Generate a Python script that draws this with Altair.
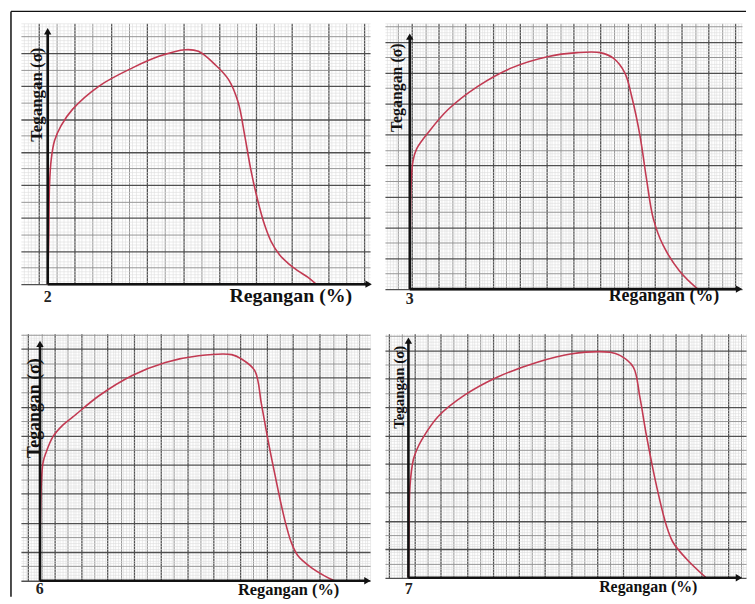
import altair as alt
import numpy as np
import pandas as pd

# ---- curve data (grid units: major graph-paper square = 1) ----
p1_x = [0.26, 0.29, 0.31, 0.36, 0.45, 0.63, 0.95, 1.68, 2.60, 3.33, 4.06, 4.42, 4.88, 5.25, 5.52, 5.70, 5.88, 6.07, 6.25, 6.43, 6.66, 6.89, 7.16, 7.44, 7.67]
p1_y = [0.0, 1.5, 3.0, 3.8, 4.35, 4.8, 5.3, 6.0, 6.55, 6.9, 7.1, 7.05, 6.65, 6.2, 5.5, 4.5, 3.4, 2.49, 1.79, 1.29, 0.89, 0.64, 0.41, 0.21, 0.0]

p2_x = [-0.07, -0.05, -0.02, 0.05, 0.18, 0.61, 1.35, 2.45, 3.68, 5.03, 6.13, 6.99, 7.47, 7.9, 8.15, 8.46, 8.7, 8.95, 9.31, 9.93, 10.6]
p2_y = [0.0, 2.0, 3.4, 4.15, 4.53, 5.06, 5.81, 6.56, 7.15, 7.52, 7.65, 7.65, 7.47, 6.99, 6.24, 4.96, 3.57, 2.29, 1.43, 0.58, 0.0]

p3_x = [0.45, 0.46, 0.56, 0.69, 0.94, 1.31, 1.69, 2.69, 3.93, 5.18, 6.43, 7.68, 8.05, 8.55, 8.8, 9.05, 9.3, 9.68, 9.93, 10.18, 10.67, 11.18, 11.55]
p3_y = [0.0, 1.88, 4.05, 4.45, 4.97, 5.37, 5.65, 6.39, 7.08, 7.53, 7.76, 7.80, 7.65, 7.25, 6.11, 4.85, 3.71, 2.11, 1.32, 0.86, 0.46, 0.17, 0.0]

p4_x = [0.76, 0.78, 0.82, 0.95, 1.08, 1.27, 1.9, 2.91, 4.18, 5.7, 6.97, 8.49, 8.87, 9.38, 9.63, 9.89, 10.27, 10.65, 10.9, 11.41, 12.17]
p4_y = [0.0, 1.6, 3.23, 4.16, 4.5, 4.85, 5.67, 6.42, 7.06, 7.58, 7.87, 7.93, 7.82, 7.41, 6.36, 4.97, 3.23, 1.83, 1.25, 0.67, 0.0]

panel_labels = ["2", "3", "6", "7"]
y_title = "Tegangan (σ)"
x_title = "Regangan (%)"

# panel geometry: x domain, y domain, axis origin x, arrow top y, arrow tip x
x_domains = [[-0.48, 9.16], [-0.99, 12.24], [-0.27, 12.9], [-0.14, 13.7]]
y_domains = [[0, 7.9], [0, 8.6], [0, 8.52], [0, 8.58]]
axis_x = [0.26, -0.07, 0.45, 0.76]
arrow_top = [7.66, 8.17, 8.17, 8.34]
arrow_tip = [9.12, 12.13, 12.8, 13.43]

sizes = [(352, 263), (360, 268), (352, 249), (364, 246)]
ytitle_pos = [(16, 72, 17), (12, 65, 16), (14, 75, 18), (14, 54, 15)]
xtitle_pos = [(334, 275, 20), (337, 275, 18), (321, 258, 16.5), (315, 255, 16)]
num_pos = [(27, 276), (25, 278), (19, 257), (24, 257)]

curves = [(p1_x, p1_y), (p2_x, p2_y), (p3_x, p3_y), (p4_x, p4_y)]

MAJOR = "abs(datum.value - round(datum.value)) < 0.01"
MEDIUM = "abs(datum.value * 2 - round(datum.value * 2)) < 0.02"


def grid_vals(lo, hi):
    return [float(v) for v in np.round(np.arange(np.ceil(lo * 10), np.floor(hi * 10) + 1) / 10.0, 2)]


def grid_axis(vals):
    return alt.Axis(
        values=vals, grid=True, labels=False, ticks=False, domain=False, title=None,
        gridColor={"condition": [{"test": MAJOR, "value": "#505050"},
                                 {"test": MEDIUM, "value": "#959595"}],
                   "value": "#dedede"},
        gridWidth={"condition": [{"test": MAJOR, "value": 1.3},
                                 {"test": MEDIUM, "value": 1.0}],
                   "value": 0.6},
    )


def make_panel(i):
    cx, cy = curves[i]
    xd, yd = x_domains[i], y_domains[i]
    xa = grid_axis(grid_vals(*xd))
    ya = grid_axis(grid_vals(*yd))
    xs = alt.Scale(domain=xd, nice=False, zero=False)
    ys = alt.Scale(domain=yd, nice=False, zero=False)
    w, h = sizes[i]

    curve_df = pd.DataFrame({"x": cx, "y": cy})
    line = alt.Chart(curve_df).mark_line(
        color="#c23a52", strokeWidth=1.6, interpolate="catmull-rom"
    ).encode(x=alt.X("x:Q", scale=xs, axis=xa), y=alt.Y("y:Q", scale=ys, axis=ya))

    ax_df = pd.DataFrame({
        "x": [axis_x[i], axis_x[i]],
        "y": [0.0, 0.0],
        "x2": [axis_x[i], arrow_tip[i]],
        "y2": [arrow_top[i], 0.0],
    })
    axes = alt.Chart(ax_df).mark_rule(color="#111111", strokeWidth=2.6).encode(
        x=alt.X("x:Q", scale=xs, axis=xa), y=alt.Y("y:Q", scale=ys, axis=ya),
        x2="x2:Q", y2="y2:Q")

    head_df = pd.DataFrame({
        "x": [axis_x[i], arrow_tip[i]],
        "y": [arrow_top[i], 0.0],
        "shape": ["triangle-up", "triangle-right"],
    })
    heads = alt.Chart(head_df).mark_point(filled=True, color="#111111", size=55, opacity=1).encode(
        x=alt.X("x:Q", scale=xs, axis=xa), y=alt.Y("y:Q", scale=ys, axis=ya),
        shape=alt.Shape("shape:N", scale=None))

    lab_df = pd.DataFrame({"yt": [y_title], "xt": [x_title], "num": [panel_labels[i]]})
    yx, yy, yfs = ytitle_pos[i]
    ytxt = alt.Chart(lab_df).mark_text(
        angle=270, font="Liberation Serif", fontWeight="bold", fontSize=yfs,
        align="center", baseline="middle", color="#111111"
    ).encode(x=alt.value(yx), y=alt.value(yy), text="yt:N")
    xx, xy, xfs = xtitle_pos[i]
    xtxt = alt.Chart(lab_df).mark_text(
        font="Liberation Serif", fontWeight="bold", fontSize=xfs,
        align="right", baseline="middle", color="#111111"
    ).encode(x=alt.value(xx), y=alt.value(xy), text="xt:N")
    nx, ny = num_pos[i]
    ntxt = alt.Chart(lab_df).mark_text(
        font="Liberation Serif", fontWeight="bold", fontSize=16,
        align="center", baseline="middle", color="#222222"
    ).encode(x=alt.value(nx), y=alt.value(ny), text="num:N")

    layers = [line, axes, heads, ytxt, xtxt, ntxt]
    if i == 0:
        # page frame (left and top edges of the scanned figure)
        frame = alt.Chart(lab_df).mark_rule(color="#111111", strokeWidth=1.5).encode(
            x=alt.value(-10), y=alt.value(-12), y2=alt.value(578))
        frame_top = alt.Chart(lab_df).mark_rule(color="#111111", strokeWidth=1.5).encode(
            x=alt.value(-10), x2=alt.value(731), y=alt.value(-12))
        layers += [frame, frame_top]
    return alt.layer(*layers).properties(width=w, height=h)


chart = alt.concat(
    *[make_panel(i) for i in range(4)],
    columns=2,
    spacing={"row": 45, "column": 15},
    bounds="flush",
).properties(
    padding={"left": 2, "top": 0, "right": 0, "bottom": 0},
    background="white",
).configure_view(strokeWidth=0)

chart.save("out.html", embed_options={"renderer": "svg", "actions": False})
